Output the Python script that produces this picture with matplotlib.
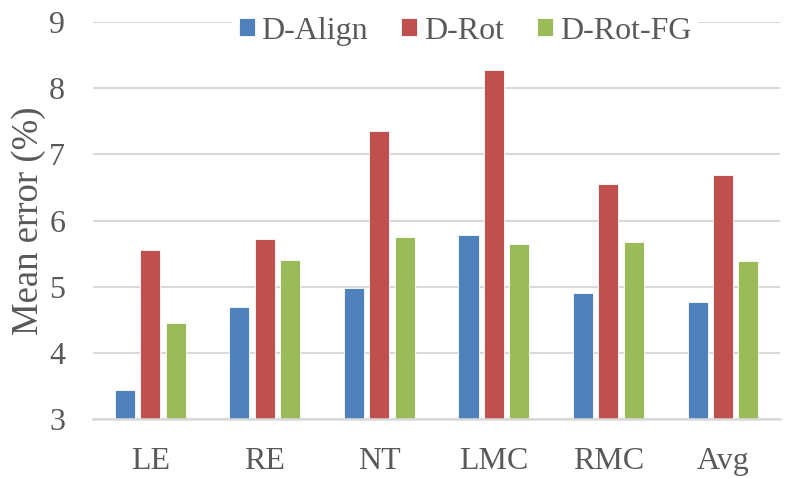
import numpy as np
import matplotlib
matplotlib.use("Agg")
import matplotlib.pyplot as plt

categories = ['LE', 'RE', 'NT', 'LMC', 'RMC', 'Avg']
d_align = [3.45, 4.70, 4.98, 5.79, 4.91, 4.77]
d_rot = [5.56, 5.72, 7.35, 8.28, 6.55, 6.69]
d_rot_fg = [4.45, 5.40, 5.75, 5.65, 5.67, 5.39]
series_names = ['D-Align', 'D-Rot', 'D-Rot-FG']
colors = ['#4F81BD', '#C0504D', '#9BBB59']

plt.rcParams['font.family'] = ['Liberation Serif', 'DejaVu Serif']
text_color = '#595959'

fig = plt.figure(figsize=(7.88, 4.78), dpi=100)
ax = fig.add_axes([0.118, 0.1228, 0.872, 0.8312])

x = np.arange(len(categories))
width = 0.175
step = 0.221
for i, (vals, name, c) in enumerate(zip([d_align, d_rot, d_rot_fg], series_names, colors)):
    ax.bar(x + (i - 1) * step, vals, width, bottom=0, color=c, label=name,
           edgecolor='white', linewidth=0.6, zorder=3)

ax.set_ylim(3, 9)
ax.set_xlim(-0.5, len(categories) - 0.5)
ax.set_yticks(range(3, 10))
ax.set_xticks(x)
ax.set_xticklabels(categories)
ax.yaxis.grid(True, color='#d9d9d9', linewidth=1.5, zorder=0)
for s in ['top', 'right', 'left']:
    ax.spines[s].set_visible(False)
ax.spines['bottom'].set_color('#d9d9d9')
ax.spines['bottom'].set_linewidth(1.8)
ax.spines['bottom'].set_zorder(4)
ax.tick_params(axis='both', length=0, labelsize=23, labelcolor=text_color)
ax.tick_params(axis='x', pad=20)
ax.tick_params(axis='y', pad=20)
ax.set_ylabel('Mean error (%)', fontsize=26.5, color=text_color, labelpad=2)

leg = ax.legend(loc='center', bbox_to_anchor=(0.59, 0.935), bbox_transform=fig.transFigure,
                ncol=3, frameon=True, fontsize=23, handlelength=0.5, handleheight=0.5,
                handletextpad=0.2, columnspacing=1.05, borderpad=0.2, borderaxespad=0)
leg.get_frame().set_facecolor('white')
leg.get_frame().set_edgecolor('white')
leg.get_frame().set_alpha(1)
leg.set_zorder(5)
for t in leg.get_texts():
    t.set_color(text_color)

fig.savefig('out.png', dpi=100)
